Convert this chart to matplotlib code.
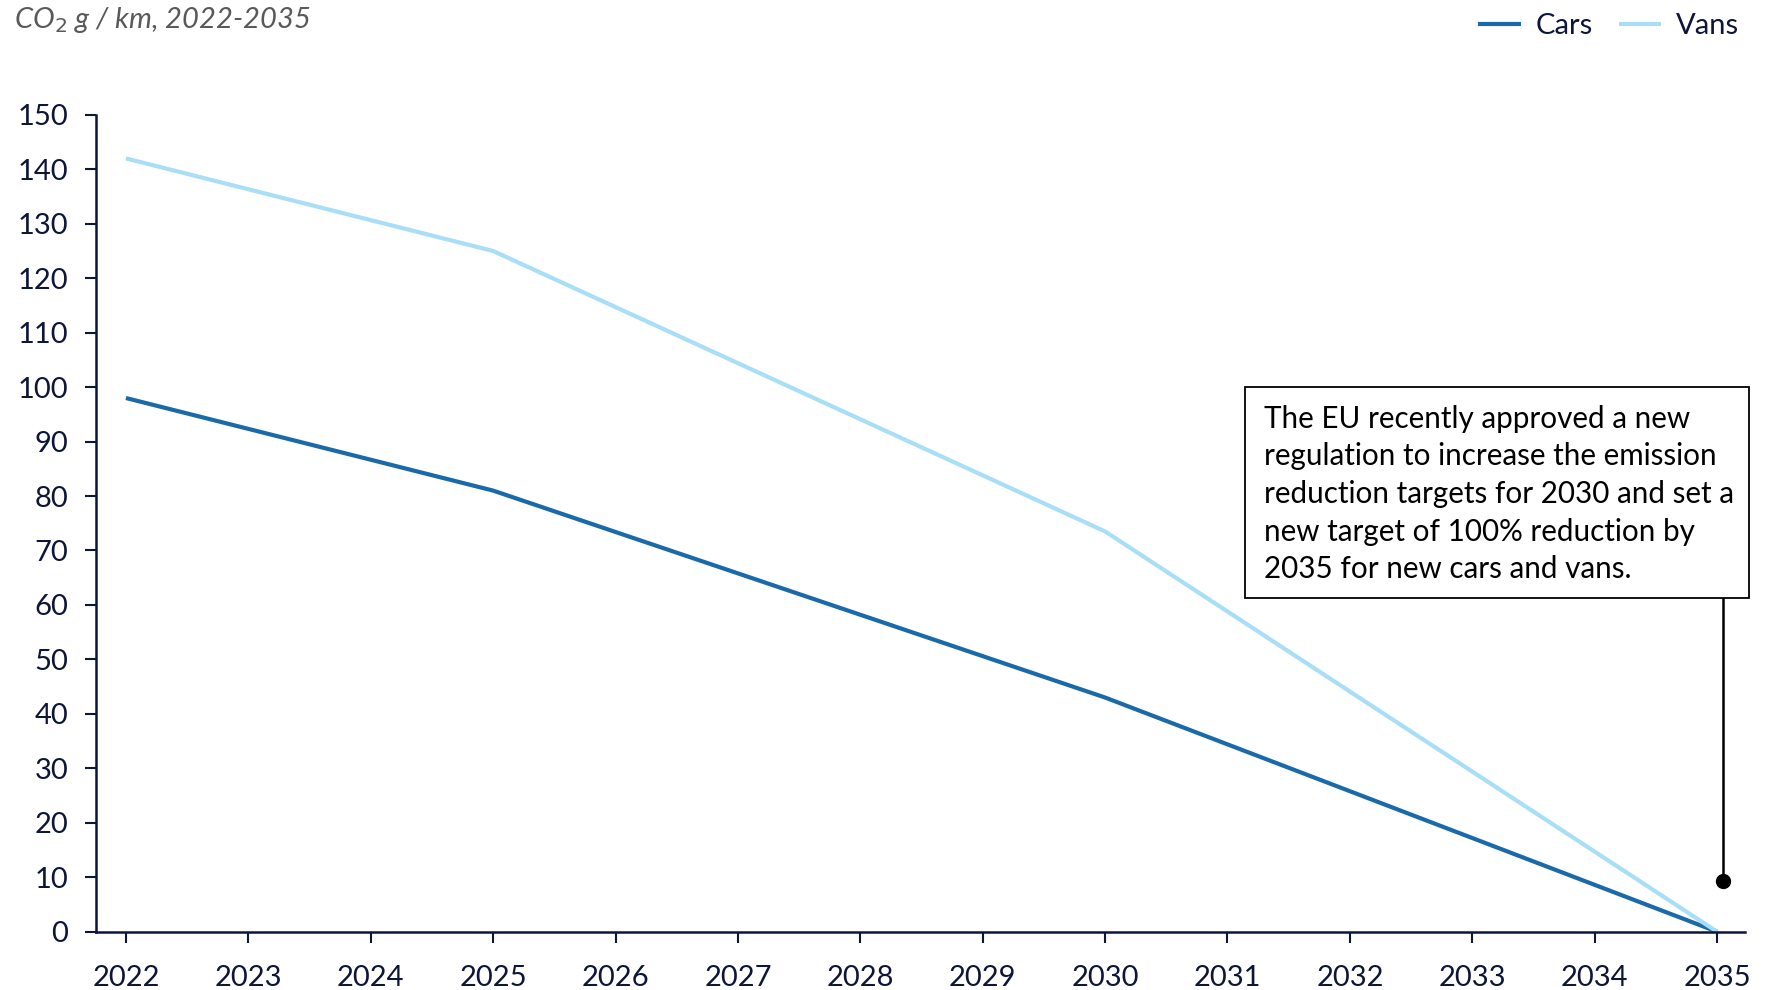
import matplotlib
matplotlib.use("Agg")
import matplotlib.pyplot as plt
from matplotlib.patches import Rectangle

years_cars = [2022, 2025, 2030, 2035]
cars = [98, 81, 43, 0]
years_vans = [2022, 2025, 2030, 2035]
vans = [142, 125, 73.5, 0]
x_ticks = list(range(2022, 2036))
y_ticks = list(range(0, 151, 10))

navy = "#0d1538"
plt.rcParams['font.family'] = ['Lato', 'DejaVu Sans']

fig = plt.figure(figsize=(17.7, 9.9), dpi=100)
ax = fig.add_axes([0.0542, 0.0589, 0.9318, 0.8251])

ax.plot(years_cars, cars, color="#1a69a8", lw=3, label="Cars", solid_capstyle="butt")
ax.plot(years_vans, vans, color="#a8def6", lw=3, label="Vans", solid_capstyle="butt")

ax.set_xlim(2021.755, 2035.23)
ax.set_ylim(0, 150)
ax.set_xticks(x_ticks)
ax.set_yticks(y_ticks)
ax.tick_params(axis='both', colors=navy, labelsize=21, length=8, width=1.5, direction='out')
ax.tick_params(axis='y', pad=12)
ax.tick_params(axis='x', pad=16)
for s in ['top', 'right']:
    ax.spines[s].set_visible(False)
for s in ['left', 'bottom']:
    ax.spines[s].set_color(navy)
    ax.spines[s].set_linewidth(1.8)

fig.text(0.008, 0.995, r"CO$_2$ g / km, 2022-2035", ha='left', va='top',
         fontsize=21, style='italic', color="#595959")

leg = ax.legend(loc='upper right', bbox_to_anchor=(1.012, 1.157), ncol=2, frameon=False,
                fontsize=21, handlelength=1.45, columnspacing=0.9, handletextpad=0.5,
                labelcolor=navy)

# annotation
box_x0, box_x1 = 2031.14, 2035.26
box_y0, box_y1 = 61.3, 100.1
ax.add_patch(Rectangle((box_x0, box_y0), box_x1 - box_x0, box_y1 - box_y0,
                       fill=True, facecolor='white', edgecolor='black', lw=1.3, clip_on=False, zorder=5))
ax.text(box_x0 + 0.16, box_y1 - 3.3,
        "The EU recently approved a new\nregulation to increase the emission\n"
        "reduction targets for 2030 and set a\nnew target of 100% reduction by\n"
        "2035 for new cars and vans.",
        ha='left', va='top', fontsize=21.3, color='black', linespacing=1.42, zorder=6)
ax.plot([2035.05, 2035.05], [box_y0, 9.3], color='black', lw=1.8, clip_on=False, zorder=4)
ax.plot([2035.05], [9.3], 'o', color='black', ms=10, clip_on=False, zorder=6)

fig.savefig("out.png", dpi=100)
